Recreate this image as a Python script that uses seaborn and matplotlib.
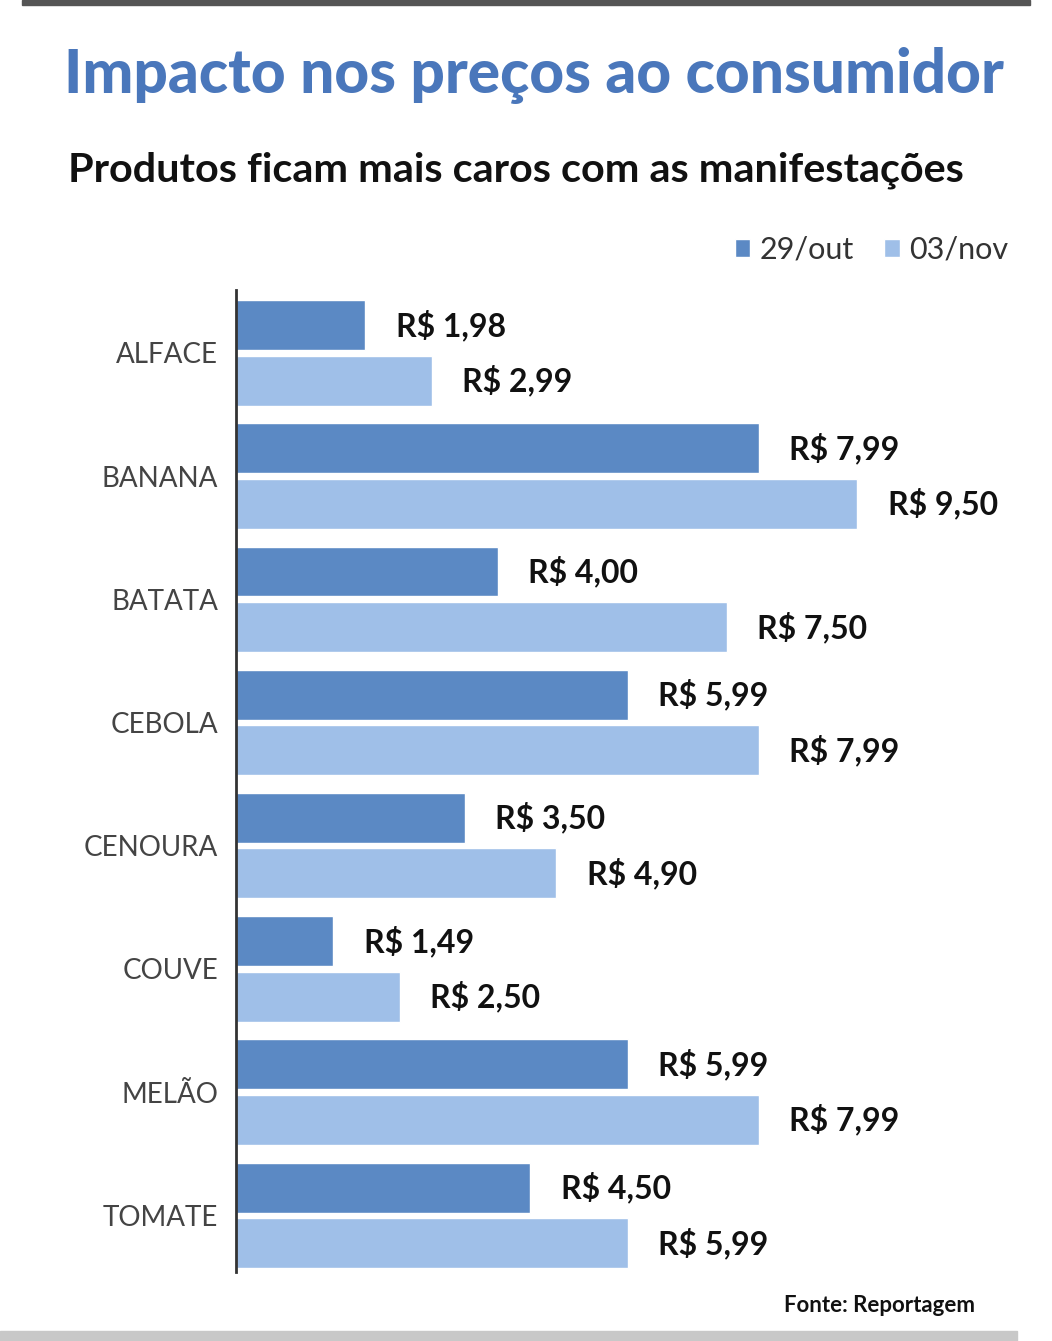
import pandas as pd
import matplotlib.pyplot as plt
import matplotlib.patches as mpatches
import seaborn as sns

produtos = ['ALFACE', 'BANANA', 'BATATA', 'CEBOLA', 'CENOURA', 'COUVE', 'MELÃO', 'TOMATE']
preco_29out = [1.98, 7.99, 4.00, 5.99, 3.50, 1.49, 5.99, 4.50]
preco_03nov = [2.99, 9.50, 7.50, 7.99, 4.90, 2.50, 7.99, 5.99]
datas = ['29/out', '03/nov']
cores = ['#5b89c4', '#9fbfe8']

df = pd.DataFrame({
    'produto': produtos * 2,
    'preco': preco_29out + preco_03nov,
    'data': [datas[0]] * len(produtos) + [datas[1]] * len(produtos),
})

sns.set_style('white')
plt.rcParams['font.family'] = ['Lato', 'DejaVu Sans']

fig = plt.figure(figsize=(10.52, 13.41), dpi=100)
ax = fig.add_axes([236 / 1052, 1 - 1272 / 1341, 764 / 1052, 982 / 1341])

sns.barplot(data=df, x='preco', y='produto', hue='data', orient='h',
            palette=cores, width=0.9, gap=0.1, saturation=1, ax=ax)

for cont in ax.containers:
    labels = ['R$ ' + f'{v:.2f}'.replace('.', ',') for v in cont.datavalues]
    ax.bar_label(cont, labels=labels, padding=22, fontsize=23, fontweight='bold', color='#111111')

ax.set_xlim(0, 764 / 65.4)
ax.set_ylim(7.46, -0.51)
ax.set_xlabel('')
ax.set_ylabel('')
ax.set_xticks([])
ax.tick_params(axis='y', length=0, pad=13, labelsize=20, labelcolor='#444444')
for s in ['top', 'right', 'bottom']:
    ax.spines[s].set_visible(False)
ax.spines['left'].set_color('#333333')
ax.spines['left'].set_linewidth(2)

sns.move_legend(ax, loc='center right', bbox_to_anchor=(1008 / 1052, 1 - 250 / 1341),
                bbox_transform=fig.transFigure, ncol=2, frameon=False, title=None,
                fontsize=22, handlelength=0.5, handleheight=0.5, handletextpad=0.3,
                columnspacing=1.0, borderaxespad=0, borderpad=0, labelcolor='#333333')

fig.text(534 / 1052, 1 - 75 / 1341, 'Impacto nos preços ao consumidor', ha='center', va='center',
         fontsize=43.5, fontweight='black', color='#4a77bb')
fig.text(68 / 1052, 1 - 170 / 1341, 'Produtos ficam mais caros com as manifestações', ha='left',
         va='center', fontsize=29.8, fontweight='bold', color='#111111')
fig.text(975 / 1052, 1 - 1305 / 1341, 'Fonte: Reportagem', ha='right', va='center',
         fontsize=16, fontweight='bold', color='#111111')

fig.patches.append(mpatches.Rectangle((22 / 1052, 1 - 5 / 1341), 1008 / 1052, 5 / 1341,
                                      transform=fig.transFigure, color='#555555'))
fig.patches.append(mpatches.Rectangle((0, 0), 1017 / 1052, 10 / 1341,
                                      transform=fig.transFigure, color='#c8c8c8'))

fig.savefig('out.png', dpi=100)
